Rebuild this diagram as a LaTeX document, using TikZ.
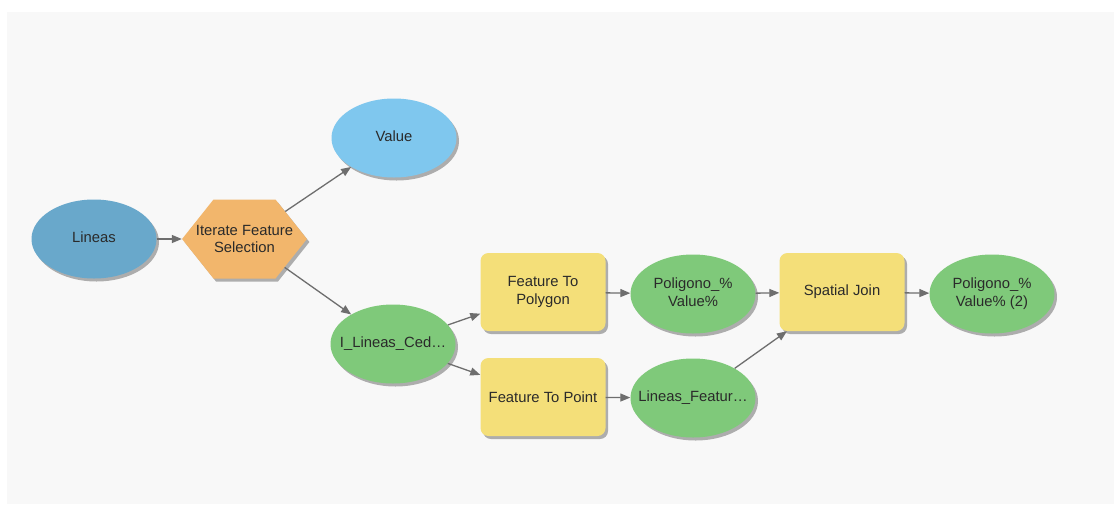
\documentclass[tikz,border=0pt]{standalone}
\usepackage{fontspec}
\setmainfont{Liberation Sans}
\usetikzlibrary{shapes.geometric,shapes.symbols,shadows,arrows.meta}

\definecolor{bggray}{HTML}{F8F8F8}
\definecolor{lineasblue}{HTML}{69A8CB}
\definecolor{valueblue}{HTML}{7FC7EE}
\definecolor{hexorange}{HTML}{F2B66C}
\definecolor{datagreen}{HTML}{7FC97A}
\definecolor{toolyellow}{HTML}{F4DF79}
\definecolor{arrowgray}{HTML}{6E6E6E}
\definecolor{textgray}{HTML}{2A2A2A}

% text that does not widen the ellipse
\newcommand{\squeezed}[1]{\makebox[0pt]{\begin{tabular}{@{}c@{}}#1\end{tabular}}}

\begin{document}
\begin{tikzpicture}[x=1pt,y=-1pt,font=\fontsize{14.8}{17.5}\selectfont,
	dropped/.style={drop shadow={shadow xshift=2.5pt,shadow yshift=-3pt,opacity=.3,fill=black}},
	dataset/.style={ellipse,dropped,minimum width=125pt,minimum height=79pt,inner sep=0pt,text=textgray},
	tool/.style={rectangle,rounded corners=8pt,dropped,fill=toolyellow,minimum width=125pt,minimum height=78pt,inner sep=0pt,align=center,text=textgray},
	link/.style={draw=arrowgray,line width=1.3pt,-{Triangle[length=10pt,width=8pt]}}]
		\fill[white] (0,0) rectangle (1114,504);
		\fill[bggray] (7,12) rectangle (1114,504);

		\node[dataset,fill=lineasblue] (lineas) at (94,239) {\squeezed{Lineas}};
		\node[signal,signal to=west and east,signal pointer angle=103,dropped,fill=hexorange,minimum height=79pt,inner sep=0pt,
			label={[align=center,text=textgray]center:Iterate Feature\\Selection}] (iterate) at (244.5,239) {\rule{62pt}{0pt}};
		\node[dataset,fill=valueblue] (value) at (394,138) {\squeezed{Value}};
		\node[dataset,fill=datagreen] (ilineas) at (393,344) {\squeezed{I\_Lineas\_Ced…}};

		\node[tool] (ftpoly) at (543,292) {Feature To\\Polygon};
		\node[tool] (ftpoint) at (543,397) {Feature To Point};
		\node[dataset,fill=datagreen] (poly) at (693,294) {\squeezed{Poligono\_\%\\Value\%}};
		\node[dataset,fill=datagreen] (lfeat) at (693,398) {\squeezed{Lineas\_Featur…}};
		\node[tool] (join) at (842,292) {Spatial Join};
		\node[dataset,fill=datagreen] (poly2) at (992,294) {\squeezed{Poligono\_\%\\Value\% (2)}};

		\foreach \a / \b in {lineas/iterate,iterate/value,iterate/ilineas,ilineas/ftpoly,ilineas/ftpoint,ftpoly/poly,ftpoint/lfeat,poly/join,lfeat/join,join/poly2} { \draw[link] (\a) -- (\b);}
	\end{tikzpicture}
\end{document}
